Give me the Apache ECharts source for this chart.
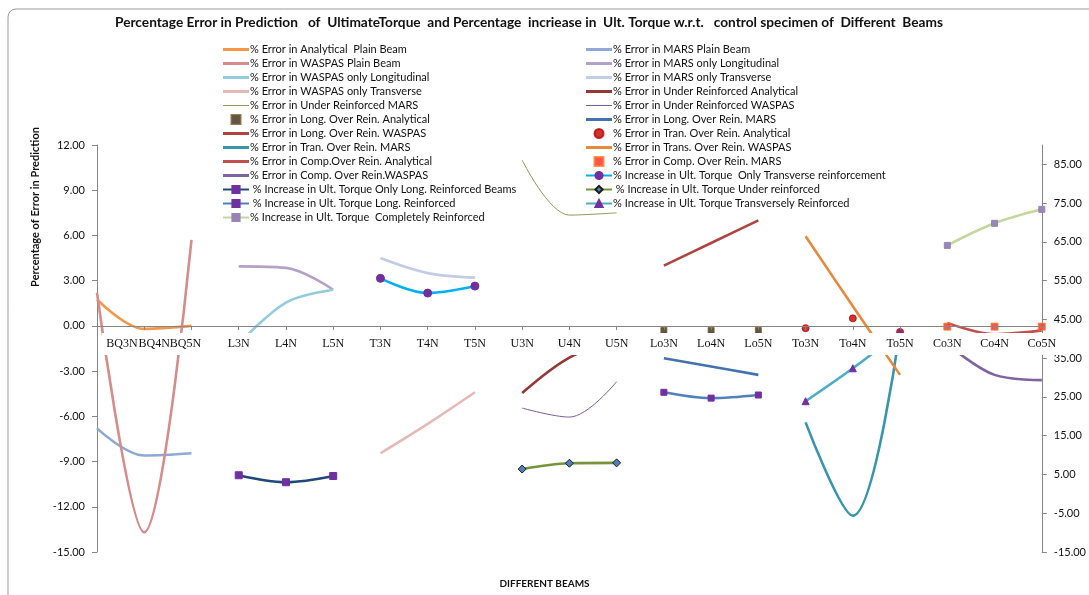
<!DOCTYPE html>
<html><head><meta charset="utf-8">
<script src="https://cdn.jsdelivr.net/npm/echarts@6/dist/echarts.min.js"></script>
<style>html,body{margin:0;padding:0;background:#fff;overflow:hidden}#c{width:1089px;height:595px}</style>
</head><body><div id="c"></div>
<script>
// ---------- DATA ----------
const categories = ['BQ3N','BQ4N','BQ5N','L3N','L4N','L5N','T3N','T4N','T5N','U3N','U4N','U5N',
  'Lo3N','Lo4N','Lo5N','To3N','To4N','To5N','Co3N','Co4N','Co5N'];
const leftAxisRange = [-15, 12, 3];
const rightAxisRange = [-15, 90];
const rightTickValues = [-15, -5, 5, 15, 25, 35, 45, 55, 65, 75, 85];

// % Error series (left axis), three values each, starting at the named category
const errAnalyticalPlain   = [1.75, -0.2, 0.0];     // BQ3N..BQ5N
const errMarsPlain         = [-6.8, -8.6, -8.45];
const errWaspasPlain       = [2.2, -13.7, 5.7];
const errMarsLong          = [3.95, 3.85, 2.4];     // L3N..L5N
const errWaspasLong        = [-1.2, 1.55, 2.4];
const errMarsTrans         = [4.5, 3.5, 3.2];       // T3N..T5N
const errWaspasTrans       = [-8.45, -6.5, -4.4];
const errUnderAnalytical   = [-4.45, -2.1, -1.0];   // U3N..U5N
const errUnderMars         = [11.0, 7.35, 7.5];
const errUnderWaspas       = [-5.45, -6.05, -3.7];
const errLongOverAnalytical= [-0.3, -0.3, -0.3];    // Lo3N..Lo5N
const errLongOverMars      = [-2.15, -2.7, -3.25];
const errLongOverWaspas    = [4.0, 5.5, 7.0];
const errTranOverAnalytical= [-0.15, 0.5, -0.4];    // To3N..To5N
const errTranOverMars      = [-6.4, -12.6, -0.2];
const errTranOverWaspas    = [5.95, 1.3, -3.25];
const errCompOverAnalytical= [0.2, -0.55, -0.3];    // Co3N..Co5N
const errCompOverMars      = [-0.05, -0.05, -0.05];
const errCompOverWaspas    = [-1.2, -3.25, -3.6];
// % Increase in ultimate torque (right axis)
const incOnlyTrans   = [55.6, 51.8, 53.6];  // T3N..T5N
const incOnlyLong    = [4.8, 3.0, 4.6];     // L3N..L5N
const incUnder       = [6.4, 7.9, 8.0];     // U3N..U5N
const incLong        = [26.2, 24.7, 25.5];  // Lo3N..Lo5N
const incTrans       = [23.9, 32.4, 41.7];  // To3N..To5N
const incComplete    = [64.1, 69.8, 73.4];  // Co3N..Co5N

// ---------- BUILD ----------
const GRID = { left: 97, right: 36, top: 145, bottom: 43 };
const gridH = 595 - GRID.top - GRID.bottom;
const zeroOffset = -gridH * (0 - leftAxisRange[0]) / (leftAxisRange[1] - leftAxisRange[0]);

function place(startCat, vals) {
  const arr = categories.map(() => null);
  const s = categories.indexOf(startCat);
  vals.forEach((v, i) => { arr[s + i] = v; });
  return arr;
}
const THICK = 'path://M0,0H26V3H0Z', THIN = 'path://M0,0H26V1H0Z', SQUARE = 'path://M0,0H10V10H0Z';
function line(name, startCat, vals, color, width, extra) {
  return Object.assign({
    type: 'line', name, data: place(startCat, vals), yAxisIndex: 0,
    smooth: 0.35, symbol: 'none', showAllSymbol: true, connectNulls: false,
    lineStyle: { color, width }, itemStyle: { color },
    emphasis: { disabled: true }, z: 2, _icon: width > 1.5 ? THICK : THIN
  }, extra || {});
}
function marks(name, startCat, vals, symbol, color, size, border) {
  return {
    type: 'scatter', name, data: place(startCat, vals), yAxisIndex: 0,
    symbol, symbolSize: size,
    itemStyle: { color, borderColor: border || color, borderWidth: 1 },
    emphasis: { disabled: true }, z: 3, _icon: symbol === 'rect' ? SQUARE : 'circle'
  };
}
function inc(name, startCat, vals, color, symbol, symColor, symSize, symBorder) {
  return line(name, startCat, vals, color, 2.6, {
    yAxisIndex: 1, symbol, symbolSize: symSize,
    itemStyle: { color: symColor, borderColor: symBorder || symColor, borderWidth: 1 }, z: 3, _icon: null
  });
}

const series = [
  line('% Error in Analytical  Plain Beam', 'BQ3N', errAnalyticalPlain, '#F79646', 2.6),
  line('% Error in MARS Plain Beam', 'BQ3N', errMarsPlain, '#8EA9D6', 2.6),
  line('% Error in WASPAS Plain Beam', 'BQ3N', errWaspasPlain, '#D68C8A', 2.6),
  line('% Error in MARS only Longitudinal', 'L3N', errMarsLong, '#B3A2C7', 2.6),
  line('% Error in WASPAS only Longitudinal', 'L3N', errWaspasLong, '#93CDDD', 2.6),
  line('% Error in MARS only Transverse', 'T3N', errMarsTrans, '#C3CCE6', 2.6),
  line('% Error in WASPAS only Transverse', 'T3N', errWaspasTrans, '#E6B9B8', 2.6),
  line('% Error in Under Reinforced Analytical', 'U3N', errUnderAnalytical, '#953735', 2.6),
  line('% Error in Under Reinforced MARS', 'U3N', errUnderMars, '#8E9A55', 1),
  line('% Error in Under Reinforced WASPAS', 'U3N', errUnderWaspas, '#7A5E9C', 1),
  marks('% Error in Long. Over Rein. Analytical', 'Lo3N', errLongOverAnalytical, 'rect', '#3A2A18', 6, '#7a5a30'),
  line('% Error in Long. Over Rein. MARS', 'Lo3N', errLongOverMars, '#4471B0', 2.6),
  line('% Error in Long. Over Rein. WASPAS', 'Lo3N', errLongOverWaspas, '#B0433F', 2.6),
  marks('% Error in Tran. Over Rein. Analytical', 'To3N', errTranOverAnalytical, 'circle', '#C00000', 7),
  line('% Error in Tran. Over Rein. MARS', 'To3N', errTranOverMars, '#3795AD', 2.6),
  line('% Error in Trans. Over Rein. WASPAS', 'To3N', errTranOverWaspas, '#E8883A', 2.6),
  line('% Error in Comp.Over Rein. Analytical', 'Co3N', errCompOverAnalytical, '#C0504D', 2.6),
  marks('% Error in Comp. Over Rein. MARS', 'Co3N', errCompOverMars, 'rect', '#FF2A1A', 7, '#FF7A30'),
  line('% Error in Comp. Over Rein.WASPAS', 'Co3N', errCompOverWaspas, '#8064A2', 2.6),
  inc('% Increase in Ult. Torque  Only Transverse reinforcement', 'T3N', incOnlyTrans, '#00B0F0', 'circle', '#7030A0', 8),
  inc(' % Increase in Ult. Torque Only Long. Reinforced Beams', 'L3N', incOnlyLong, '#1F497D', 'rect', '#7030A0', 7),
  inc(' % Increase in Ult. Torque Under reinforced', 'U3N', incUnder, '#77933C', 'diamond', '#4F81BD', 8, '#1a1a1a'),
  inc(' % Increase in Ult. Torque Long. Reinforced', 'Lo3N', incLong, '#4F81BD', 'rect', '#7030A0', 6),
  inc('% Increase in Ult. Torque Transversely Reinforced', 'To3N', incTrans, '#4BACC6', 'triangle', '#7030A0', 7),
  inc('% Increase in Ult. Torque  Completely Reinforced', 'Co3N', incComplete, '#C3D69B', 'rect', '#9A84B8', 6)
];

function legendItem(s) { return s._icon ? { name: s.name, icon: s._icon } : { name: s.name }; }
const leftItems = series.filter((s, i) => i % 2 === 0).map(legendItem);
const rightItems = series.filter((s, i) => i % 2 === 1).map(legendItem);
series.forEach(s => { delete s._icon; });

// x-axis labels: white boxes (hide lines behind the label band); first three shifted as in the original
const labelSpec = {
  BQ3N: { pre: 's50', box: 'b40' },
  BQ4N: { pre: 's20', box: 'b32' },
  BQ5N: { post: 's12', box: 'b32' }
};
function xLabel(v) {
  const sp = labelSpec[v];
  if (!sp) return '{b48|' + v + '}';
  return (sp.pre ? '{' + sp.pre + '|}' : '') + '{' + sp.box + '|' + v + '}' + (sp.post ? '{' + sp.post + '|}' : '');
}
const boxStyle = w => ({ width: w, height: 22, lineHeight: 22, align: 'center', backgroundColor: '#fff',
  fontFamily: '"Liberation Serif", serif', fontSize: 12, color: '#111' });
const spacer = w => ({ width: w, height: 22 });

const FONT = 'Lato, "Open Sans", sans-serif';
const legendBase = {
  orient: 'vertical', top: 39, itemWidth: 26, itemHeight: 9, itemGap: 3,
  selectedMode: false,
  textStyle: { fontFamily: FONT, fontSize: 11, color: '#111', padding: [0, 0, 0, -4] }
};

const chart = echarts.init(document.getElementById('c'), null, { renderer: 'canvas' });
chart.setOption({
  animation: false,
  backgroundColor: '#fff',
  title: [{
    text: 'Percentage Error in Prediction   of  UltimateTorque  and Percentage  incriease in  Ult. Torque w.r.t.   control specimen of  Different  Beams',
    left: 110, top: 11,
    textStyle: { fontFamily: FONT, fontWeight: 'bold', fontSize: 13.7, color: '#111' }
  }, {
    text: 'DIFFERENT BEAMS', left: 'center', top: 574,
    textStyle: { fontFamily: FONT, fontWeight: 'bold', fontSize: 10, color: '#111' }
  }],
  graphic: [
    { type: 'rect', shape: { x: 8, y: 9, width: 1200, height: 700, r: 8 }, style: { fill: 'none', stroke: '#9a9a9a', lineWidth: 1 }, silent: true, z: -1 },
    { type: 'text', x: 35, y: 207, rotation: Math.PI / 2,
      style: { text: 'Percentage of Error in Prediction', fontFamily: FONT, fontWeight: 'bold', fontSize: 11, fill: '#111', align: 'center', verticalAlign: 'middle' } }
  ],
  legend: [
    Object.assign({}, legendBase, { left: 217, data: leftItems }),
    Object.assign({}, legendBase, { left: 580, data: rightItems })
  ],
  grid: Object.assign({ containLabel: false }, GRID),
  xAxis: {
    type: 'category', data: categories, boundaryGap: false, z: 6, position: 'bottom', offset: zeroOffset,
    axisLine: { onZero: false, lineStyle: { color: '#868686', width: 1 } },
    axisTick: { show: true, interval: 0, length: 4, lineStyle: { color: '#868686' } },
    axisLabel: {
      interval: 0, margin: 7, hideOverlap: false, verticalAlign: 'top', align: 'center',
      formatter: xLabel,
      rich: {
        b48: boxStyle(48), b40: boxStyle(40), b32: boxStyle(32),
        s50: spacer(50), s20: spacer(20), s12: spacer(12)
      }
    },
    splitLine: { show: false }
  },
  yAxis: [{
    type: 'value', min: leftAxisRange[0], max: leftAxisRange[1], interval: leftAxisRange[2], position: 'left',
    axisLine: { show: true, lineStyle: { color: '#868686' } },
    axisTick: { show: true, length: 5, lineStyle: { color: '#868686' } },
    axisLabel: { formatter: v => v.toFixed(2), fontFamily: FONT, fontSize: 11, color: '#111', margin: 12 },
    splitLine: { show: false }
  }, {
    type: 'value', min: rightAxisRange[0], max: rightAxisRange[1], position: 'right',
    axisLine: { show: true, lineStyle: { color: '#868686' } },
    axisTick: { show: true, length: 5, customValues: rightTickValues, lineStyle: { color: '#868686' } },
    axisLabel: { customValues: rightTickValues, formatter: v => v.toFixed(2), fontFamily: FONT, fontSize: 11, color: '#111', margin: 12 },
    splitLine: { show: false }
  }],
  series
});
</script></body></html>
